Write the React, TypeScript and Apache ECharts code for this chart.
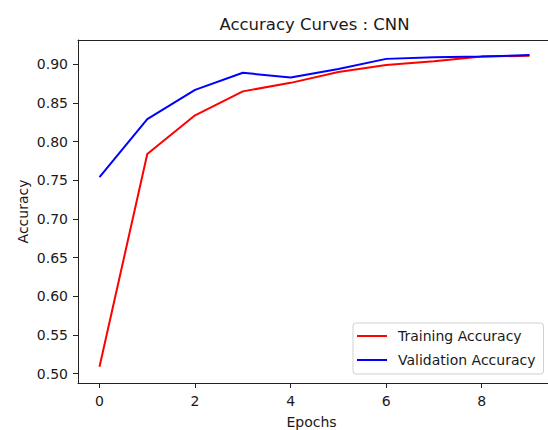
import React, { useEffect, useRef } from "react";
import * as echarts from "echarts";

const epochs = [0, 1, 2, 3, 4, 5, 6, 7, 8, 9];
const trainingAccuracy = [0.509, 0.784, 0.834, 0.865, 0.876, 0.890, 0.899, 0.904, 0.910, 0.911];
const validationAccuracy = [0.754, 0.829, 0.867, 0.889, 0.883, 0.894, 0.907, 0.909, 0.910, 0.912];
const xTicks = [0, 2, 4, 6, 8];
const yTicks = [0.5, 0.55, 0.6, 0.65, 0.7, 0.75, 0.8, 0.85, 0.9];

const FONT = "DejaVu Sans";
const INK = "#1a1a1a";
const SPINE = "#222";

export default function App() {
  const ref = useRef<HTMLDivElement>(null);
  useEffect(() => {
    document.body.style.margin = "0";
    const chart = echarts.init(ref.current!, null, { renderer: "svg" });
    const gridLeft = 78;
    const gridTop = 40;
    const gridWidth = 473;
    const gridHeight = 343;
    const X_MIN = -0.45;
    const X_MAX = 9.45;
    const Y_MIN = 0.488;
    const Y_MAX = 0.9314;
    chart.setOption({
      animation: false,
      backgroundColor: "#ffffff",
      textStyle: { fontFamily: FONT },
      grid: {
        left: gridLeft,
        top: gridTop,
        width: gridWidth,
        height: gridHeight,
        show: false,
        containLabel: false,
      },
      xAxis: [
        {
          type: "value",
          min: X_MIN,
          max: X_MAX,
          splitLine: { show: false },
          axisLine: { show: true, onZero: false, lineStyle: { color: SPINE, width: 1 } },
          axisTick: { show: true, length: 5, customValues: xTicks, lineStyle: { color: SPINE } },
          axisLabel: {
            customValues: xTicks,
            margin: 11,
            fontSize: 14,
            color: INK,
            fontFamily: FONT,
          },
        },
        {
          type: "value",
          position: "top",
          min: X_MIN,
          max: X_MAX,
          splitLine: { show: false },
          axisLine: { show: true, onZero: false, lineStyle: { color: SPINE, width: 1 } },
          axisTick: { show: false },
          axisLabel: { show: false },
        },
      ],
      yAxis: {
        type: "value",
        min: Y_MIN,
        max: Y_MAX,
        splitLine: { show: false },
        axisLine: { show: true, onZero: false, lineStyle: { color: SPINE, width: 1 } },
        axisTick: { show: true, length: 5, customValues: yTicks, lineStyle: { color: SPINE } },
        axisLabel: {
          customValues: yTicks,
          margin: 10,
          fontSize: 14,
          color: INK,
          fontFamily: FONT,
          formatter: (v: number) => v.toFixed(2),
        },
      },
      legend: {
        orient: "vertical",
        left: 353,
        top: 323,
        padding: [6, 8, 7, 4],
        itemGap: 10,
        itemWidth: 30,
        itemHeight: 2,
        icon: "rect",
        backgroundColor: "rgba(255,255,255,0.8)",
        borderColor: "#d0d0d0",
        borderWidth: 1,
        borderRadius: 3,
        textStyle: {
          fontSize: 14,
          color: INK,
          fontFamily: FONT,
          padding: [0, 0, 0, 6],
        },
        data: ["Training Accuracy", "Validation Accuracy"],
      },
      series: [
        {
          name: "Training Accuracy",
          type: "line",
          data: epochs.map((e, i) => [e, trainingAccuracy[i]]),
          showSymbol: false,
          symbol: "none",
          lineStyle: { color: "#ff0000", width: 2 },
          itemStyle: { color: "#ff0000" },
        },
        {
          name: "Validation Accuracy",
          type: "line",
          data: epochs.map((e, i) => [e, validationAccuracy[i]]),
          showSymbol: false,
          symbol: "none",
          lineStyle: { color: "#0000ff", width: 2 },
          itemStyle: { color: "#0000ff" },
        },
      ],
      graphic: [
        {
          type: "text",
          x: gridLeft + gridWidth / 2,
          y: 24,
          style: {
            text: "Accuracy Curves : CNN",
            fontSize: 16.5,
            fontFamily: FONT,
            fill: INK,
            textAlign: "center",
            textVerticalAlign: "middle",
          },
        },
        {
          type: "text",
          x: gridLeft + gridWidth / 2 - 3,
          y: 422,
          style: {
            text: "Epochs",
            fontSize: 14,
            fontFamily: FONT,
            fill: INK,
            textAlign: "center",
            textVerticalAlign: "middle",
          },
        },
        {
          type: "text",
          x: 23,
          y: gridTop + gridHeight / 2,
          rotation: Math.PI / 2,
          style: {
            text: "Accuracy",
            fontSize: 14,
            fontFamily: FONT,
            fill: INK,
            textAlign: "center",
            textVerticalAlign: "middle",
          },
        },
      ],
    });
    return () => chart.dispose();
  }, []);
  return (
    <div style={{ width: 548, height: 430, overflow: "hidden", position: "relative" }}>
      <div ref={ref} style={{ width: 560, height: 430 }} />
    </div>
  );
}
